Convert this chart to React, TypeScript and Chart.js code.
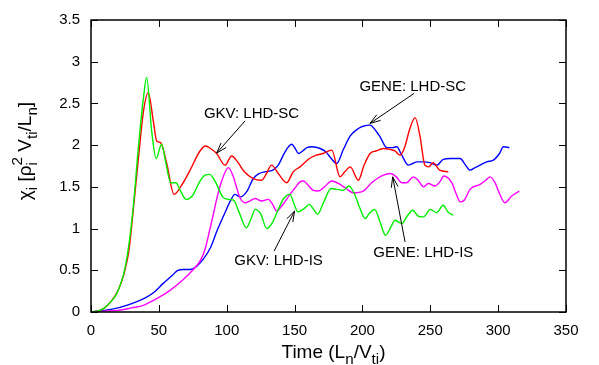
import React, { useEffect, useRef } from "react";
import { Chart, registerables } from "chart.js";

Chart.register(...registerables);

// ---------------- data ----------------
const gkvScTime = [0, 5, 10, 15, 20, 24, 28, 31, 35, 38.6, 42.2, 45.9, 48.4, 51.3, 55.8, 61.2, 66, 73, 80.3, 84.5, 88, 92.6, 98.7, 103.7, 108, 113, 119.5, 125.8, 129, 133, 138, 144.2, 149, 154, 161, 166, 171, 177.4, 183.5, 187, 191, 197, 201, 205.6, 210, 215.4, 220, 224, 227.7, 231, 235, 238.8, 242.5, 246, 249, 252, 257, 263.3];
const gkvScChi = [0, 0.01, 0.05, 0.13, 0.26, 0.44, 0.74, 1.2, 1.85, 2.4, 2.63, 2.29, 2.05, 2.03, 1.78, 1.41, 1.5, 1.7, 1.93, 1.99, 1.96, 1.9, 1.76, 1.87, 1.8, 1.68, 1.6, 1.58, 1.65, 1.76, 1.66, 1.55, 1.68, 1.74, 1.84, 1.88, 1.9, 1.94, 1.62, 1.68, 1.74, 1.58, 1.75, 1.9, 1.93, 1.96, 1.95, 1.93, 1.88, 1.97, 2.2, 2.33, 2.1, 1.76, 1.74, 1.79, 1.7, 1.68];

const gkvIsTime = [0, 5, 10, 15, 19, 24, 27.5, 31.2, 34.9, 38.6, 41, 44.7, 48, 52, 55, 58.7, 62.6, 66, 70, 75, 80, 84, 87.5, 92, 97, 101, 105, 109, 114.5, 118, 121, 125, 129.5, 134, 138, 142, 146.6, 149.5, 152.5, 157, 161, 164, 167, 171, 177, 181, 186, 190, 194, 198, 202, 205, 209, 213, 217, 221, 224, 229, 233, 237, 241, 245, 250, 254.7, 259.5, 263, 267];
const gkvIsChi = [0, 0.01, 0.05, 0.13, 0.22, 0.45, 0.76, 1.27, 1.97, 2.56, 2.81, 2.17, 1.84, 2.01, 1.8, 1.55, 1.55, 1.45, 1.35, 1.4, 1.56, 1.64, 1.65, 1.55, 1.38, 1.35, 1.34, 1.2, 1.01, 1.12, 1.23, 1.18, 1.0, 1.08, 1.23, 1.36, 1.41, 1.3, 1.2, 1.24, 1.29, 1.23, 1.17, 1.3, 1.48, 1.47, 1.46, 1.51, 1.42, 1.25, 1.12, 1.18, 1.23, 1.08, 0.92, 1.02, 1.1, 1.06, 1.15, 1.22, 1.15, 1.14, 1.23, 1.19, 1.28, 1.2, 1.16];

const geneScTime = [0, 10, 20, 30, 40, 46, 53, 60, 64, 68, 73, 78, 83, 88, 93, 98.7, 103, 106, 110, 115, 119.6, 124, 128, 134, 138, 141.7, 145, 147.9, 150.5, 152.8, 156, 159, 163, 168.8, 173, 177, 181, 186, 191, 197, 201, 205.6, 210, 213, 218, 222, 225.3, 229, 233.8, 237, 240, 245, 249.8, 254.7, 259.6, 265, 272, 276, 279.3, 283, 286.7, 291.6, 296.5, 301, 303.9, 308.3];
const geneScChi = [0, 0.02, 0.05, 0.1, 0.17, 0.23, 0.34, 0.44, 0.5, 0.51, 0.51, 0.55, 0.64, 0.77, 0.98, 1.19, 1.34, 1.41, 1.38, 1.45, 1.6, 1.66, 1.68, 1.7, 1.76, 1.88, 1.97, 2.01, 1.96, 1.9, 1.93, 1.97, 1.98, 1.96, 1.92, 1.84, 1.78, 1.95, 2.11, 2.2, 2.23, 2.24, 2.17, 2.1, 1.97, 1.97, 1.98, 1.88, 1.76, 1.78, 1.8, 1.8, 1.79, 1.76, 1.83, 1.84, 1.84, 1.76, 1.7, 1.73, 1.76, 1.8, 1.82, 1.9, 1.98, 1.97];

const geneIsTime = [0, 10, 20, 30, 38.6, 48.4, 58.2, 68, 75.4, 80.3, 84, 87.7, 90, 93, 96.3, 101.2, 104.9, 107.5, 109.8, 113.5, 117, 120.9, 125.8, 130.7, 133.5, 136.8, 141, 146.6, 150, 154, 156.5, 160, 163.5, 167.5, 172, 177.4, 183.5, 188, 193, 200.7, 206.8, 211, 215.4, 220.3, 225, 229, 232.6, 237.5, 241, 245, 248.6, 253.5, 257, 260, 265.8, 269, 272, 275, 279.3, 286.7, 291, 294, 297.7, 301, 305, 310, 315.6];
const geneIsChi = [0, 0.01, 0.02, 0.05, 0.08, 0.16, 0.26, 0.39, 0.51, 0.61, 0.75, 1.0, 1.16, 1.38, 1.57, 1.73, 1.62, 1.48, 1.37, 1.31, 1.33, 1.36, 1.33, 1.35, 1.3, 1.21, 1.28, 1.41, 1.48, 1.56, 1.57, 1.52, 1.46, 1.45, 1.5, 1.57, 1.53, 1.48, 1.43, 1.45, 1.55, 1.6, 1.64, 1.66, 1.62, 1.55, 1.55, 1.62, 1.58, 1.5, 1.54, 1.51, 1.56, 1.63, 1.55, 1.42, 1.32, 1.34, 1.47, 1.53, 1.58, 1.62, 1.55, 1.42, 1.31, 1.39, 1.45];

const xTicks = [0, 50, 100, 150, 200, 250, 300, 350];
const yTicks = [0, 0.5, 1, 1.5, 2, 2.5, 3, 3.5];
const yTickLabels = ["0", "0.5", "1", "1.5", "2", "2.5", "3", "3.5"];

// annotation labels: text, label centre, arrow tail, arrow tip (data units)
const labelTexts = ["GKV: LHD-SC", "GENE: LHD-SC", "GKV: LHD-IS", "GENE: LHD-IS"];
const labelX = [118.3, 237.1, 138.2, 244.9];
const labelY = [2.38, 2.7, 0.61, 0.71];
const arrowFromX = [113.5, 238, 134.9, 231.4];
const arrowFromY = [2.29, 2.62, 0.73, 0.84];
const arrowToX = [92.6, 205.6, 150, 222.3];
const arrowToY = [1.905, 2.26, 1.21, 1.62];

const FONT = "'Liberation Sans', Arial, sans-serif";

type Seg = { t: string; sub?: string; sup?: string };

function segWidth(ctx: CanvasRenderingContext2D, s: Seg, size: number) {
  ctx.font = `${size}px ${FONT}`;
  let w = ctx.measureText(s.t).width;
  ctx.font = `${size * 0.8}px ${FONT}`;
  const a = s.sub ? ctx.measureText(s.sub).width : 0;
  const b = s.sup ? ctx.measureText(s.sup).width : 0;
  return w + Math.max(a, b);
}

function drawRich(ctx: CanvasRenderingContext2D, segs: Seg[], cx: number, baseY: number, size: number) {
  let total = 0;
  segs.forEach((s) => (total += segWidth(ctx, s, size)));
  let x = cx - total / 2;
  ctx.textBaseline = "alphabetic";
  ctx.textAlign = "left";
  ctx.fillStyle = "#000";
  for (const s of segs) {
    ctx.font = `${size}px ${FONT}`;
    ctx.fillText(s.t, x, baseY);
    x += ctx.measureText(s.t).width;
    ctx.font = `${size * 0.8}px ${FONT}`;
    let adv = 0;
    if (s.sub) {
      ctx.fillText(s.sub, x, baseY + size * 0.3);
      adv = Math.max(adv, ctx.measureText(s.sub).width);
    }
    if (s.sup) {
      ctx.fillText(s.sup, x, baseY - size * 0.45);
      adv = Math.max(adv, ctx.measureText(s.sup).width);
    }
    x += adv;
  }
}

const decorPlugin = {
  id: "decor",
  afterDatasetsDraw(chart: any) {
    const { ctx, chartArea: a, scales } = chart;
    const xs = scales.x;
    const ys = scales.y;
    ctx.save();
    // border
    ctx.strokeStyle = "#000";
    ctx.lineWidth = 1.5;
    ctx.strokeRect(a.left, a.top, a.right - a.left, a.bottom - a.top);
    // inward ticks, mirrored
    ctx.lineWidth = 1;
    const tl = 7;
    ctx.beginPath();
    xTicks.forEach((v) => {
      const px = Math.round(xs.getPixelForValue(v)) + 0.5;
      ctx.moveTo(px, a.bottom);
      ctx.lineTo(px, a.bottom - tl);
      ctx.moveTo(px, a.top);
      ctx.lineTo(px, a.top + tl);
    });
    yTicks.forEach((v) => {
      const py = Math.round(ys.getPixelForValue(v)) + 0.5;
      ctx.moveTo(a.left, py);
      ctx.lineTo(a.left + tl, py);
      ctx.moveTo(a.right, py);
      ctx.lineTo(a.right - tl, py);
    });
    ctx.stroke();

    // annotations
    ctx.fillStyle = "#000";
    ctx.font = `15px ${FONT}`;
    ctx.textAlign = "center";
    ctx.textBaseline = "middle";
    labelTexts.forEach((t, i) => {
      ctx.fillText(t, xs.getPixelForValue(labelX[i]), ys.getPixelForValue(labelY[i]));
      const x0 = xs.getPixelForValue(arrowFromX[i]);
      const y0 = ys.getPixelForValue(arrowFromY[i]);
      const x1 = xs.getPixelForValue(arrowToX[i]);
      const y1 = ys.getPixelForValue(arrowToY[i]);
      const ang = Math.atan2(y1 - y0, x1 - x0);
      const hl = 11;
      const ha = Math.PI / 10;
      ctx.beginPath();
      ctx.lineWidth = 1;
      ctx.moveTo(x0, y0);
      ctx.lineTo(x1, y1);
      ctx.moveTo(x1 - hl * Math.cos(ang - ha), y1 - hl * Math.sin(ang - ha));
      ctx.lineTo(x1, y1);
      ctx.lineTo(x1 - hl * Math.cos(ang + ha), y1 - hl * Math.sin(ang + ha));
      ctx.stroke();
    });

    // axis titles
    const cx = (a.left + a.right) / 2 + 5;
    drawRich(ctx, [{ t: "Time (L", sub: "n" }, { t: "/V", sub: "ti" }, { t: ")" }], cx, 358, 19);
    ctx.save();
    ctx.translate(31, 151);
    ctx.rotate(-Math.PI / 2);
    drawRich(
      ctx,
      [{ t: "\u03c7", sub: "i" }, { t: " [\u03c1", sub: "i", sup: "2" }, { t: " V", sub: "ti" }, { t: "/L", sub: "n" }, { t: "]" }],
      0,
      0,
      19
    );
    ctx.restore();
    ctx.restore();
  },
};

function toPts(xs: number[], ys: number[]) {
  return xs.map((x, i) => ({ x, y: ys[i] }));
}

export default function App() {
  const ref = useRef<HTMLCanvasElement>(null);
  useEffect(() => {
    if (!ref.current) return;
    const common = { pointRadius: 0, borderWidth: 1.4, cubicInterpolationMode: "monotone" as const, fill: false };
    const chart = new Chart(ref.current, {
      type: "line",
      data: {
        datasets: [
          { ...common, label: "GKV: LHD-SC", data: toPts(gkvScTime, gkvScChi), borderColor: "#ff0000", order: 2 },
          { ...common, label: "GKV: LHD-IS", data: toPts(gkvIsTime, gkvIsChi), borderColor: "#00ee00", order: 1 },
          { ...common, label: "GENE: LHD-SC", data: toPts(geneScTime, geneScChi), borderColor: "#0000ff", order: 4 },
          { ...common, label: "GENE: LHD-IS", data: toPts(geneIsTime, geneIsChi), borderColor: "#ff00ff", order: 3 },
        ],
      },
      options: {
        animation: false,
        responsive: false,
        devicePixelRatio: 1,
        layout: { padding: { top: 13, right: 33, left: 0, bottom: 0 } },
        plugins: { legend: { display: false }, tooltip: { enabled: false } },
        scales: {
          x: {
            type: "linear",
            min: 0,
            max: 350,
            afterBuildTicks: (s: any) => {
              s.ticks = xTicks.map((v) => ({ value: v }));
            },
            afterFit: (s: any) => {
              s.height = 53;
            },
            grid: { display: false, drawTicks: false },
            border: { display: false },
            ticks: { color: "#000", font: { family: FONT, size: 15 }, padding: 10, maxRotation: 0 },
          },
          y: {
            type: "linear",
            min: 0,
            max: 3.5,
            afterBuildTicks: (s: any) => {
              s.ticks = yTicks.map((v) => ({ value: v }));
            },
            afterFit: (s: any) => {
              s.width = 91;
            },
            grid: { display: false, drawTicks: false },
            border: { display: false },
            ticks: {
              color: "#000",
              font: { family: FONT, size: 15 },
              padding: 11,
              callback: (v: any) => {
                const i = yTicks.indexOf(Number(v));
                return i >= 0 ? yTickLabels[i] : String(v);
              },
            },
          },
        },
      },
      plugins: [decorPlugin],
    });
    return () => chart.destroy();
  }, []);
  return (
    <div style={{ position: "fixed", left: 0, top: 0, width: 599, height: 365, background: "#fff" }}>
      <canvas ref={ref} width={599} height={365} style={{ width: 599, height: 365 }} />
    </div>
  );
}
